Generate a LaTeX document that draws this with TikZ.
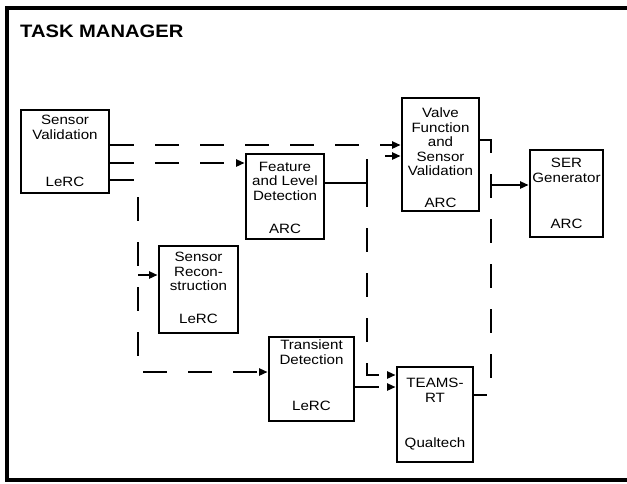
\documentclass[tikz,border=0pt]{standalone}
\usepackage{fontspec}
\setmainfont[FakeStretch=1.12]{Liberation Sans}
\usetikzlibrary{arrows.meta}
\tikzset{
  blk/.style={draw, line width=2.7pt, inner sep=0pt},
  txt/.style={font=\fontsize{13.5}{14.5}\selectfont, align=center, inner sep=0pt},
  ln/.style={line width=2.6pt},
  dl/.style={ln, dash pattern=on 24pt off 21pt},
  arr/.style={-{Triangle[length=8.5pt,width=7pt]}},
  frame/.style={line width=3.2pt}
}
\begin{document}
\begin{tikzpicture}[x=1pt,y=-1pt]
\useasboundingbox (0,0) rectangle (627,483);
% frame
\draw[frame] (627,8) -- (7,8) -- (7,480) -- (627,480);
\node[anchor=base west, inner sep=0pt, font=\fontsize{18}{20}\selectfont\bfseries] (title) at (20,37) {TASK MANAGER};
% boxes
\node[blk, minimum width=88pt, minimum height=83pt] (sv) at (65,151.5) {};
\node[blk, minimum width=78pt, minimum height=85pt] (fl) at (285,196.5) {};
\node[blk, minimum width=77pt, minimum height=113pt] (vf) at (440.5,154.5) {};
\node[blk, minimum width=73pt, minimum height=87pt] (ser) at (566.5,193.5) {};
\node[blk, minimum width=79pt, minimum height=87pt] (sr) at (198.5,289.5) {};
\node[blk, minimum width=85pt, minimum height=84pt] (td) at (311.5,379) {};
\node[blk, minimum width=76pt, minimum height=95pt] (tm) at (435,414.5) {};
% texts
\node[txt, anchor=north] (svt) at (65,115) {Sensor\\Validation};
\node[txt, anchor=base] (svb) at (65,186) {LeRC};
\node[txt, anchor=north] (flt) at (285,162) {Feature\\and Level\\Detection};
\node[txt, anchor=base] (flb) at (285,233) {ARC};
\node[txt, anchor=north] (vft) at (440.5,108) {Valve\\Function\\and\\Sensor\\Validation};
\node[txt, anchor=base] (vfb) at (440.5,207) {ARC};
\node[txt, anchor=north] (sert) at (566.5,158) {SER\\Generator};
\node[txt, anchor=base] (serb) at (566.5,228) {ARC};
\node[txt, anchor=north] (srt) at (198.5,252) {Sensor\\Recon-\\struction};
\node[txt, anchor=base] (srb) at (198.5,323) {LeRC};
\node[txt, anchor=north] (tdt) at (311.5,340) {Transient\\Detection};
\node[txt, anchor=base] (tdb) at (311.5,410) {LeRC};
\node[txt, anchor=north] (tmt) at (435,378) {TEAMS-\\RT};
\node[txt, anchor=base] (tmb) at (435,447) {Qualtech};
% junction coordinates
\coordinate (j1) at (138,180);
\coordinate (j2) at (138,372);
\coordinate (j3) at (138,275);
\coordinate (j4) at (367,183);
\coordinate (j5) at (367,156);
\coordinate (j6) at (367,375);
\coordinate (j7) at (491,140);
\coordinate (j8) at (491,395);
\coordinate (j9) at (491,185);
% connectors
\draw[dl,arr] (sv.east |- 0,145) -- (vf.west |- 0,145);
\draw[dl,arr] (sv.east |- 0,163) -- (fl.west |- 0,163);
\draw[dl,arr] (sv.east |- j1) -- (j1) -- (j2) -- (td.west |- j2);
\draw[ln,arr] (j3) -- (sr.west |- j3);
\draw[ln] (fl.east |- j4) -- (j4);
\draw[dl,arr] (j4) -- (j5) -- (vf.west |- j5);
\draw[dl,arr] (j4) -- (j6) -- (tm.west |- j6);
\draw[dl,arr] (td.east |- 0,387) -- (tm.west |- 0,387);
\draw[dl] (vf.east |- j7) -- (j7) -- (j8) -- (tm.east |- j8);
\draw[ln,arr] (j9) -- (ser.west |- j9);
\end{tikzpicture}
\end{document}
